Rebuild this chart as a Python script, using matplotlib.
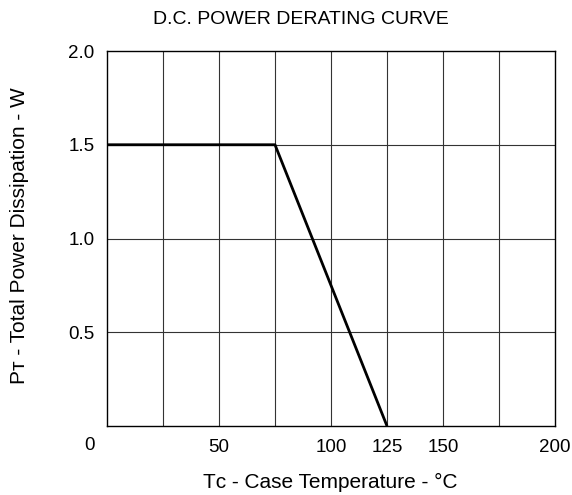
import matplotlib.pyplot as plt

plt.rcParams['font.family'] = ['Liberation Sans', 'DejaVu Sans']

# derating curve
temp = [0, 75, 125]
power = [1.5, 1.5, 0]

x_ticks = [50, 100, 125, 150, 200]
y_ticks = [0.5, 1.0, 1.5, 2.0]
x_grid = [25, 50, 75, 100, 125, 150, 175]
y_grid = [0.5, 1.0, 1.5]

fig = plt.figure(figsize=(5.72, 4.95), dpi=100)
ax = fig.add_axes([107 / 572, 1 - 426 / 495, 448 / 572, 375 / 495])

for x in x_grid:
    ax.axvline(x, color='#333333', lw=0.8, zorder=1)
for y in y_grid:
    ax.axhline(y, color='#333333', lw=0.8, zorder=1)

ax.plot(temp, power, color='black', lw=2, zorder=3, solid_capstyle='butt')

ax.set_xlim(0, 200)
ax.set_ylim(0, 2.0)
ax.set_xticks(x_ticks)
ax.set_xticklabels([str(v) for v in x_ticks])
ax.set_yticks(y_ticks)
ax.set_yticklabels(['%.1f' % v for v in y_ticks])
ax.tick_params(length=0, labelsize=13.5, pad=9)
for s in ax.spines.values():
    s.set_linewidth(1.0)

# corner zero
ax.text(-0.038, -0.028, '0', transform=ax.transAxes, ha='center', va='top', fontsize=13.5)

fig.text(301 / 572, 1 - 20 / 495, 'D.C. POWER DERATING CURVE', ha='center', va='center', fontsize=14)
fig.text(330 / 572, 1 - 482 / 495, 'T\u1d04 - Case Temperature - °C', ha='center', va='center', fontsize=15)
fig.text(20 / 572, 1 - 236 / 495, 'P\u1d1b - Total Power Dissipation - W', ha='center', va='center',
         rotation=90, fontsize=15)

fig.savefig('out.png', dpi=100)
